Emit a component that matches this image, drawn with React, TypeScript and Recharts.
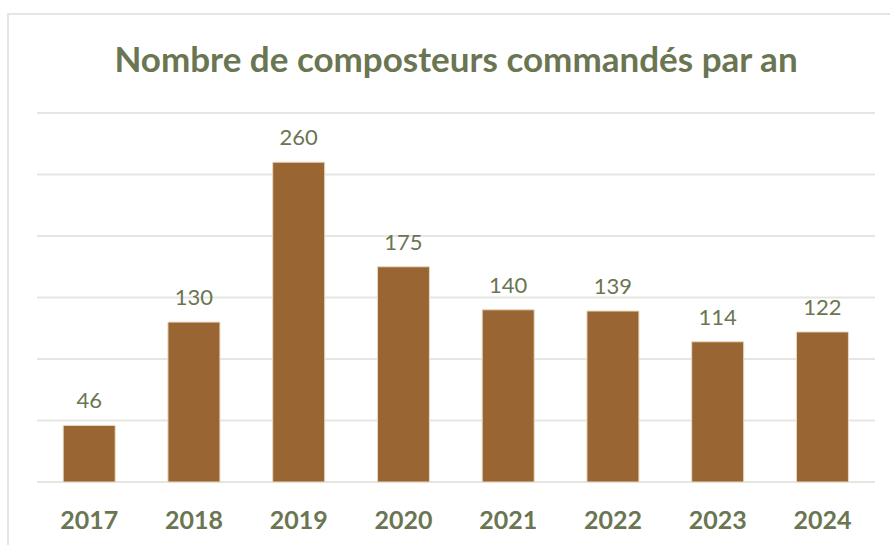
import React from 'react'
import { BarChart, Bar, XAxis, YAxis, CartesianGrid, LabelList } from 'recharts'

const years = ['2017', '2018', '2019', '2020', '2021', '2022', '2023', '2024']
const composteurs = [46, 130, 260, 175, 140, 139, 114, 122]
const yTicks = [0, 50, 100, 150, 200, 250, 300]

const data = years.map((year, i) => ({ year, value: composteurs[i] }))

const textColor = '#6a7552'
const gridColor = '#e6e6e1'

export default function App() {
  return (
    <div style={{ position: 'absolute', left: 0, top: 0, width: 890, height: 545, background: '#fff', fontFamily: 'Lato, sans-serif' }}>
      <div
        style={{
          position: 'absolute',
          left: 7,
          top: 13,
          width: 900,
          height: 560,
          border: `2px solid ${gridColor}`,
        }}
      />
      <div
        style={{
          position: 'absolute',
          left: 0,
          width: 912,
          top: 37,
          textAlign: 'center',
          fontSize: 35,
          fontWeight: 700,
          color: textColor,
          lineHeight: '42px',
        }}
      >
        Nombre de composteurs commandés par an
      </div>
      <BarChart
        width={890}
        height={545}
        data={data}
        margin={{ top: 113, right: 15, left: 37, bottom: 33 }}
        barCategoryGap="25%"
        style={{ position: 'absolute', left: 0, top: 0 }}
      >
        <CartesianGrid vertical={false} stroke={gridColor} strokeWidth={2} />
        <YAxis
          width={0}
          domain={[0, 300]}
          ticks={yTicks}
          tick={{ fill: 'none', fontSize: 1 }}
          axisLine={false}
          tickLine={false}
        />
        <XAxis
          dataKey="year"
          axisLine={false}
          tickLine={false}
          tickMargin={23}
          tick={{ fill: textColor, fontSize: 25, fontWeight: 700, fontFamily: 'Lato, sans-serif' }}
        />
        <Bar dataKey="value" fill="#996633" stroke="#e9d9c4" strokeWidth={1} isAnimationActive={false}>
          <LabelList
            dataKey="value"
            position="top"
            offset={17}
            fill={textColor}
            fontSize={22}
            fontFamily="Lato, sans-serif"
          />
        </Bar>
      </BarChart>
    </div>
  )
}
